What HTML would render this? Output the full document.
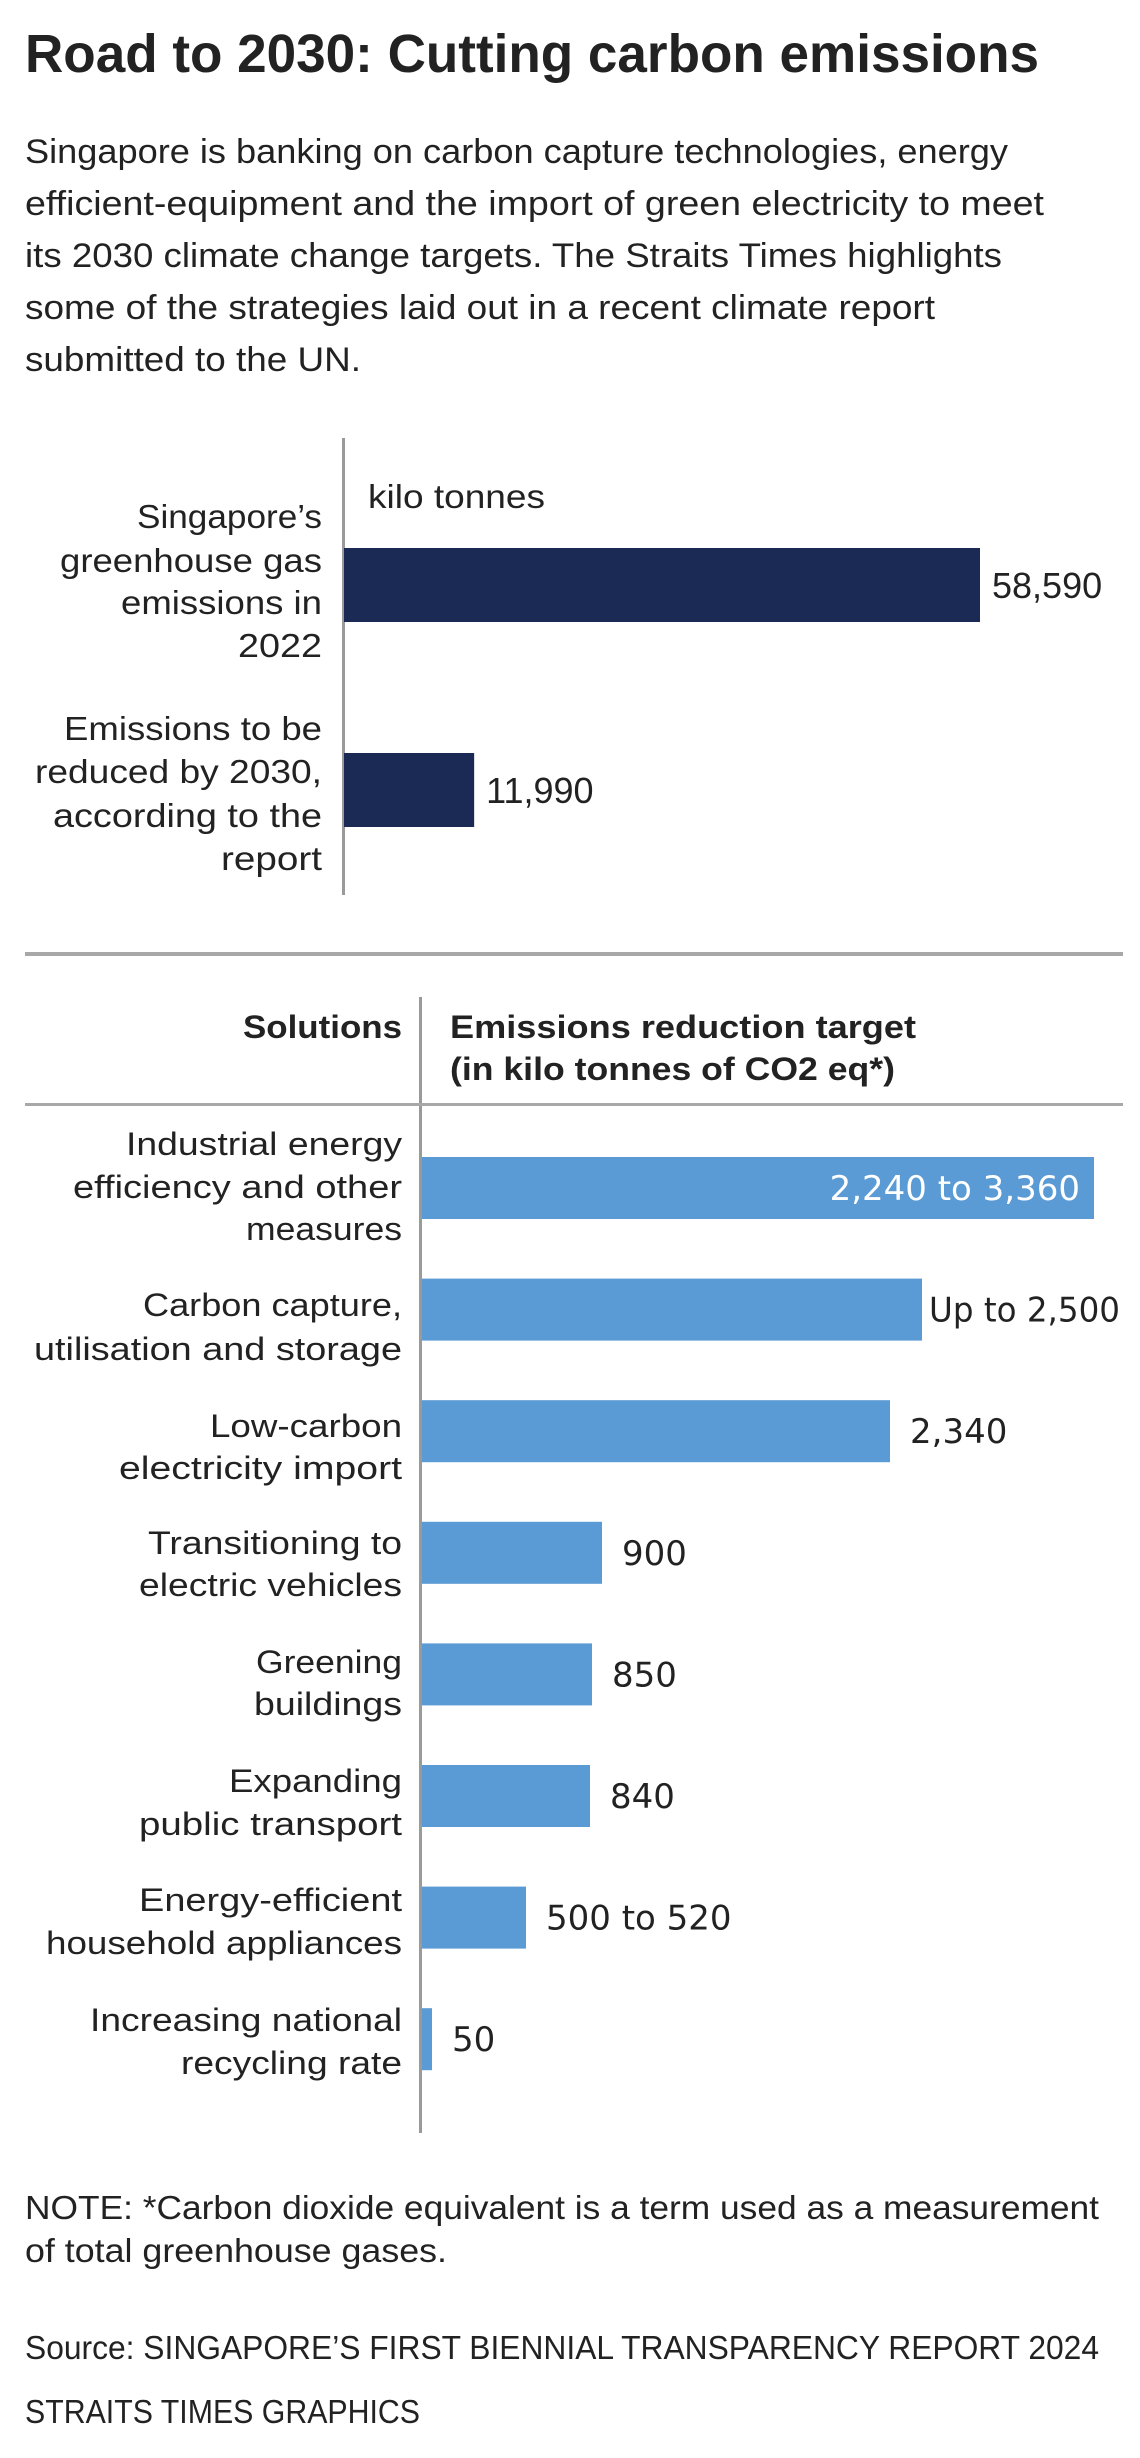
<!DOCTYPE html>
<html><head><meta charset="utf-8"><title>Road to 2030: Cutting carbon emissions</title>
<style>
html,body{margin:0;padding:0;background:#fff;}
svg{display:block;}
text{font-family:"Liberation Sans",sans-serif;fill:#222;}
.c{font-size:33px;}
.w{font-family:"DejaVu Sans","Liberation Sans",sans-serif;font-size:32px;fill:#222;}
.v{font-family:"DejaVu Sans","Liberation Sans",sans-serif;font-size:34px;fill:#222;}
</style></head>
<body>
<svg id="root" width="1140" height="2458" viewBox="0 0 1140 2458" xmlns="http://www.w3.org/2000/svg">
<rect x="0" y="0" width="1140" height="2458" fill="#fff"/>
<text x="25" y="72" font-size="54" font-weight="bold" textLength="1014" lengthAdjust="spacingAndGlyphs" fill="#1e1e1e">Road to 2030: Cutting carbon emissions</text>
<g font-size="34" fill="#2a2a2a">
<text x="25" y="163" textLength="983" lengthAdjust="spacingAndGlyphs">Singapore is banking on carbon capture technologies, energy</text>
<text x="25" y="215" textLength="1019" lengthAdjust="spacingAndGlyphs">efficient-equipment and the import of green electricity to meet</text>
<text x="25" y="267" textLength="977" lengthAdjust="spacingAndGlyphs">its 2030 climate change targets. The Straits Times highlights</text>
<text x="25" y="319" textLength="910" lengthAdjust="spacingAndGlyphs">some of the strategies laid out in a recent climate report</text>
<text x="25" y="371" textLength="336" lengthAdjust="spacingAndGlyphs">submitted to the UN.</text>
</g>

<!-- Chart 1 -->
<g id="chart1">
<rect x="342" y="438" width="3" height="457" fill="#9a9a9a"/>
<text class="c" x="368" y="508" textLength="177" lengthAdjust="spacingAndGlyphs">kilo tonnes</text>
<g class="c" text-anchor="end">
<text x="322" y="528" textLength="185" lengthAdjust="spacingAndGlyphs">Singapore’s</text>
<text x="322" y="572" textLength="262" lengthAdjust="spacingAndGlyphs">greenhouse gas</text>
<text x="322" y="614" textLength="201" lengthAdjust="spacingAndGlyphs">emissions in</text>
<text x="322" y="657" textLength="84" lengthAdjust="spacingAndGlyphs">2022</text>
</g>
<g class="c" text-anchor="end">
<text x="322" y="740" textLength="258" lengthAdjust="spacingAndGlyphs">Emissions to be</text>
<text x="322" y="783" textLength="287" lengthAdjust="spacingAndGlyphs">reduced by 2030,</text>
<text x="322" y="827" textLength="269" lengthAdjust="spacingAndGlyphs">according to the</text>
<text x="322" y="870" textLength="101" lengthAdjust="spacingAndGlyphs">report</text>
</g>
</g>

<rect x="25" y="952" width="1098" height="4" fill="#a8a8a8"/>

<!-- Chart 2 -->
<g id="chart2">
<rect x="419" y="997" width="3" height="1136" fill="#9a9a9a"/>
<rect x="25" y="1103" width="1098" height="3" fill="#a8a8a8"/>
<text x="402" y="1038" text-anchor="end" font-size="32" font-weight="bold" textLength="159" lengthAdjust="spacingAndGlyphs">Solutions</text>
<text x="450" y="1038" font-size="32" font-weight="bold" textLength="466" lengthAdjust="spacingAndGlyphs">Emissions reduction target</text>
<text x="450" y="1080" font-size="32" font-weight="bold" textLength="445" lengthAdjust="spacingAndGlyphs">(in kilo tonnes of CO2 eq*)</text>
<g class="w" text-anchor="end">
<text x="402" y="1155" textLength="276" lengthAdjust="spacingAndGlyphs">Industrial energy</text>
<text x="402" y="1198" textLength="329" lengthAdjust="spacingAndGlyphs">efficiency and other</text>
<text x="402" y="1240" textLength="156" lengthAdjust="spacingAndGlyphs">measures</text>
<text x="402" y="1316" textLength="259" lengthAdjust="spacingAndGlyphs">Carbon capture,</text>
<text x="402" y="1360" textLength="368" lengthAdjust="spacingAndGlyphs">utilisation and storage</text>
<text x="402" y="1437" textLength="192" lengthAdjust="spacingAndGlyphs">Low-carbon</text>
<text x="402" y="1479" textLength="283" lengthAdjust="spacingAndGlyphs">electricity import</text>
<text x="402" y="1554" textLength="254" lengthAdjust="spacingAndGlyphs">Transitioning to</text>
<text x="402" y="1596" textLength="263" lengthAdjust="spacingAndGlyphs">electric vehicles</text>
<text x="402" y="1673" textLength="146" lengthAdjust="spacingAndGlyphs">Greening</text>
<text x="402" y="1715" textLength="148" lengthAdjust="spacingAndGlyphs">buildings</text>
<text x="402" y="1792" textLength="173" lengthAdjust="spacingAndGlyphs">Expanding</text>
<text x="402" y="1835" textLength="263" lengthAdjust="spacingAndGlyphs">public transport</text>
<text x="402" y="1911" textLength="263" lengthAdjust="spacingAndGlyphs">Energy-efficient</text>
<text x="402" y="1954" textLength="356" lengthAdjust="spacingAndGlyphs">household appliances</text>
<text x="402" y="2031" textLength="312" lengthAdjust="spacingAndGlyphs">Increasing national</text>
<text x="402" y="2074" textLength="221" lengthAdjust="spacingAndGlyphs">recycling rate</text>
</g>
</g>

<g font-size="33" fill="#2a2a2a">
<text x="25" y="2219" textLength="1074" lengthAdjust="spacingAndGlyphs">NOTE: *Carbon dioxide equivalent is a term used as a measurement</text>
<text x="25" y="2262" textLength="422" lengthAdjust="spacingAndGlyphs">of total greenhouse gases.</text>
<text x="25" y="2359" textLength="1074" lengthAdjust="spacingAndGlyphs">Source: SINGAPORE’S FIRST BIENNIAL TRANSPARENCY REPORT 2024</text>
<text x="25" y="2423" textLength="395" lengthAdjust="spacingAndGlyphs">STRAITS TIMES GRAPHICS</text>
</g>
</svg>
<script>
// Chart 1 data
const c1Categories = ["Singapore's greenhouse gas emissions in 2022", "Emissions to be reduced by 2030"];
const c1Values = [58590, 11990];
const c1Labels = ["58,590", "11,990"];
// Chart 2 data
const c2Categories = ["Industrial energy efficiency", "Carbon capture", "Low-carbon electricity import", "Electric vehicles", "Greening buildings", "Public transport", "Household appliances", "Recycling rate"];
const c2Values = [3360, 2500, 2340, 900, 850, 840, 520, 50];
const c2Labels = ["2,240 to 3,360", "Up to 2,500", "2,340", "900", "850", "840", "500 to 520", "50"];

const NS = "http://www.w3.org/2000/svg";

// Chart 1 axes
const c1x0 = 344, c1pxPerUnit = 636 / 58590;
function c1X(v) { return c1x0 + v * c1pxPerUnit; }
function c1Y(i) { return 548 + i * 205; }
const c1BarH = 74;
const g1 = document.getElementById("chart1");
c1Values.forEach(function (v, i) {
  const r = document.createElementNS(NS, "rect");
  r.setAttribute("x", c1x0);
  r.setAttribute("y", c1Y(i));
  r.setAttribute("width", c1X(v) - c1x0);
  r.setAttribute("height", c1BarH);
  r.setAttribute("fill", "#1b2a54");
  
  
  g1.appendChild(r);
  const t = document.createElementNS(NS, "text");
  t.setAttribute("x", c1X(v) + 12);
  t.setAttribute("y", c1Y(i) + c1BarH / 2 + 13);
  t.setAttribute("font-size", "36");
  t.textContent = c1Labels[i];
  
  
  g1.appendChild(t);
});

// Chart 2 axes
const c2x0 = 422, c2pxPerUnit = 0.2;
function c2X(v) { return c2x0 + v * c2pxPerUnit; }
function c2Y(i) { return 1157 + i * 121.6; }
const c2BarH = 62;
const g2 = document.getElementById("chart2");
c2Values.forEach(function (v, i) {
  const r = document.createElementNS(NS, "rect");
  r.setAttribute("x", c2x0);
  r.setAttribute("y", c2Y(i));
  r.setAttribute("width", c2X(v) - c2x0);
  r.setAttribute("height", c2BarH);
  r.setAttribute("fill", "#5b9bd5");
  
  
  g2.appendChild(r);
  const t = document.createElementNS(NS, "text");
  t.setAttribute("class", "v");
  t.setAttribute("y", c2Y(i) + c2BarH / 2 + 12);
  t.textContent = c2Labels[i];
  
  
  g2.appendChild(t);
  const w = t.getComputedTextLength();
  const end = c2X(v);
  if (end + 20 + w <= 1122) {
    t.setAttribute("x", end + 20);
  } else if (end + 7 + w * 0.9 <= 1122) {
    t.setAttribute("x", end + 7);
    t.setAttribute("textLength", Math.min(w, 1120 - end - 7).toFixed(1));
    t.setAttribute("lengthAdjust", "spacingAndGlyphs");
  } else {
    t.setAttribute("x", end - 14);
    t.setAttribute("text-anchor", "end");
    t.style.fill = "#fff";
  }
});
</script>
</body></html>
